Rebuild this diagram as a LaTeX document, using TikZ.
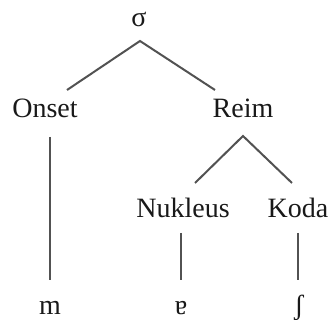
\documentclass[tikz,border=0pt]{standalone}
\usepackage{fontspec}
\setmainfont{Liberation Serif}
\usetikzlibrary{calc}
\begin{document}
\begin{tikzpicture}[x=0.5pt,y=-0.5pt,
  lbl/.style={anchor=base,inner sep=0pt,text=black!90,font=\fontsize{14pt}{17pt}\selectfont},
  edge/.style={draw=black!68,line width=1pt}]
\useasboundingbox (0,0) rectangle (333,320);
% syllable tree nodes
\node[lbl] (sigma) at (139,27) {σ};
\node[lbl] (onset) at (45,118) {Onset};
\node[lbl] (reim) at (243,118) {Reim};
\node[lbl] (nukleus) at (183,218) {Nukleus};
\node[lbl] (koda) at (298,218) {Koda};
\node[lbl] (m) at (50,315) {m};
\node[lbl] (a) at (181,315) {ɐ};
\node[lbl] (sh) at (299,315) {ʃ};
% branches
\draw[edge] ($(onset.base)+(22,-28)$) -- ($(sigma.base)+(1,14)$) -- ($(reim.base)+(-28,-28)$);
\draw[edge] ($(nukleus.base)+(12,-35)$) -- ($(reim.base)+(0,18)$) -- ($(koda.base)+(-6,-35)$);
\draw[edge] ($(onset.base)+(5,19)$) -- ($(m.base)+(0,-35)$);
\draw[edge] ($(nukleus.base)+(-2,15)$) -- ($(a.base)+(0,-35)$);
\draw[edge] ($(koda.base)+(0,15)$) -- ($(sh.base)+(-1,-35)$);
\end{tikzpicture}
\end{document}
